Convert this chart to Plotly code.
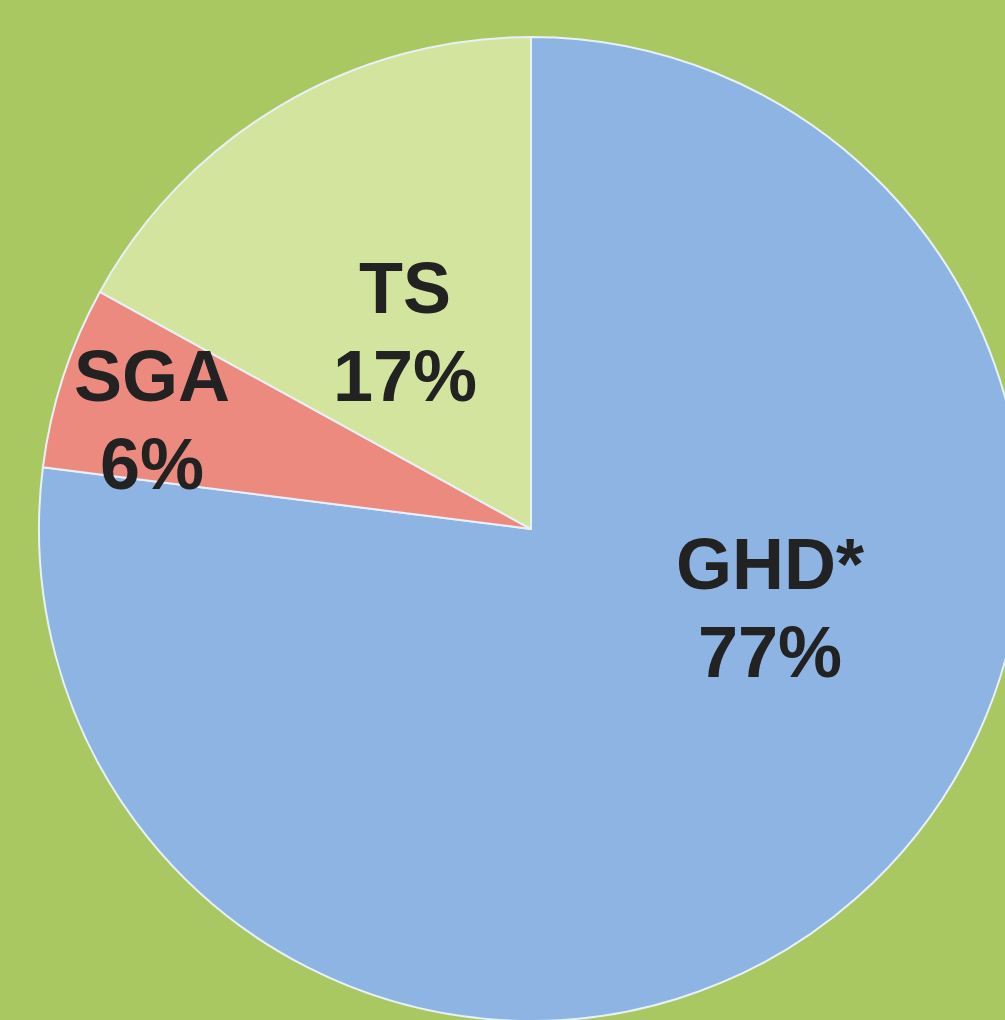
import plotly.graph_objects as go

labels = ["GHD*", "SGA", "TS"]
values = [77, 6, 17]
colors = ["#8db4e2", "#ec8a80", "#d2e49e"]
label_pos_x = [0.743, 0.115, 0.372]
label_pos_y = [0.420, 0.611, 0.700]

fig = go.Figure(go.Pie(
    labels=labels,
    values=values,
    sort=False,
    direction="clockwise",
    rotation=0,
    marker=dict(colors=colors, line=dict(color="#e8f0f8", width=2)),
    textinfo="none",
    hoverinfo="label+percent",
    showlegend=False,
))

font = dict(family="Liberation Sans, Arial, sans-serif", size=72, color="#222222")
for lab, v, x, y in zip(labels, values, label_pos_x, label_pos_y):
    fig.add_annotation(x=x, y=y, xref="paper", yref="paper", text=f"<b>{lab}</b>",
                       showarrow=False, font=font, xanchor="center", yanchor="middle", yshift=44)
    fig.add_annotation(x=x, y=y, xref="paper", yref="paper", text=f"<b>{v}%</b>",
                       showarrow=False, font=font, xanchor="center", yanchor="middle", yshift=-44)

fig.update_layout(
    width=1060, height=1060,
    margin=dict(l=39, r=37, t=37, b=39),
    paper_bgcolor="#a9c861",
    plot_bgcolor="#a9c861",
)

fig.write_html("out.html", post_script="document.body.style.margin='0';document.body.style.overflow='hidden';document.documentElement.style.overflow='hidden';document.body.style.background='#a9c861';")
